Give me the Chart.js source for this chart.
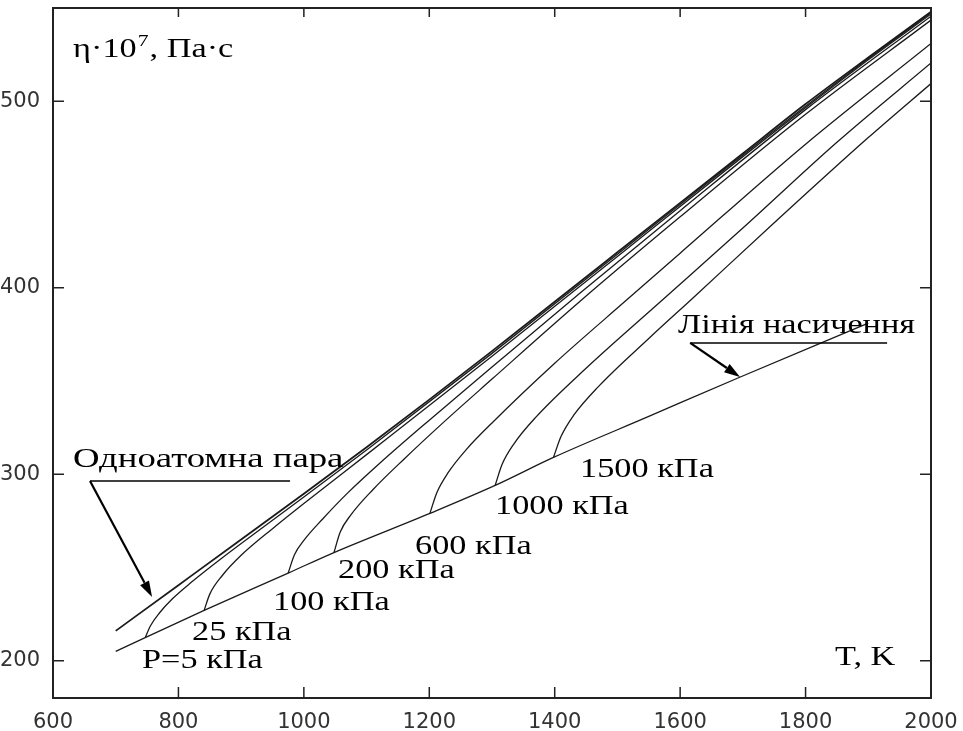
<!DOCTYPE html>
<html>
<head>
<meta charset="utf-8">
<script src="https://cdn.jsdelivr.net/npm/chart.js@4.4.0/dist/chart.umd.min.js"></script>
<style>
  body { margin: 0; background: #fff; }
  canvas { display: block; }
</style>
</head>
<body>
<canvas id="chart" width="963" height="731"></canvas>
<script>
// viscosity of the vapour, eta*10^7 Pa*s, against T, K
const xTicks = [600, 800, 1000, 1200, 1400, 1600, 1800, 2000];
const yTicks = [200, 300, 400, 500];

// monoatomic vapour
const tMono = [700, 800, 900, 1000, 1100, 1200, 1300, 1400, 1500, 1600, 1700, 1800, 1900, 2000];
const etaMono = [216, 240.5, 265, 289.5, 314.5, 340, 366, 392.5, 419, 445.5, 472, 498.5, 523.5, 548];

// saturation line
const tSat = [700, 841, 975, 1048, 1201, 1305, 1398, 1550, 1695, 1900];
const etaSat = [205, 227, 247, 258, 279, 294, 309, 331, 352, 381];

// isobars
const t5 = [747, 755, 770, 790, 820, 870, 950, 1100, 1300, 1500, 1700, 1900, 2000];
const eta5 = [212.3, 218.5, 225.7, 233.1, 241.9, 255.2, 275.3, 313, 364.8, 418, 471.2, 522.9, 547.5];

const t25 = [841, 850, 870, 900, 950, 1000, 1100, 1300, 1500, 1700, 1900, 2000];
const eta25 = [227, 235.7, 245.7, 256.5, 270.8, 284.3, 310.5, 363.2, 416.8, 470.3, 522.2, 546.8];

const t100 = [975, 985, 1000, 1030, 1070, 1121, 1200, 1300, 1440, 1600, 1800, 2000];
const eta100 = [247, 256.8, 264.5, 276, 290, 305.9, 329, 357.5, 397.1, 441.3, 495.5, 545.6];

const t200 = [1048, 1058, 1075, 1110, 1160, 1220, 1300, 1440, 1600, 1800, 2000];
const eta200 = [258, 269, 278.2, 291.7, 308.2, 327, 351, 392.6, 438, 493, 543.5];

const t600 = [1201, 1212, 1230, 1260, 1300, 1400, 1515, 1600, 1800, 2000];
const eta600 = [279, 290.1, 300.8, 313.6, 327.5, 359.5, 393.5, 418.5, 477, 531];

const t1000 = [1305, 1316, 1335, 1370, 1450, 1573, 1700, 1850, 2000];
const eta1000 = [294, 305.2, 316.3, 330.6, 356.8, 393.8, 432, 478, 520.5];

const t1500 = [1398, 1410, 1430, 1470, 1550, 1620, 1750, 1900, 2000];
const eta1500 = [309, 320.2, 331.5, 347.1, 372.8, 394.4, 434.8, 480.5, 509.5];

// captions, placed in data units
const notes = [
  { text: "Одноатомна пара", t: 632, v: 303.9, sx: 1.36 },
  { text: "P=5 кПа", t: 742, v: 196.1 },
  { text: "25 кПа", t: 821.7, v: 211.1 },
  { text: "100 кПа", t: 950.8, v: 227.2 },
  { text: "200 кПа", t: 1054.5, v: 244.3 },
  { text: "600 кПа", t: 1177.3, v: 257.2 },
  { text: "1000 кПа", t: 1304.8, v: 278.7 },
  { text: "1500 кПа", t: 1440.4, v: 298.5 },
  { text: "Лінія насичення", t: 1596.6, v: 375.7 },
  { text: "T, K", t: 1847, v: 197.7 }
];
const pointers = [
  { line: [659, 296.4, 978, 296.4], arrow: [659, 296.4, 758, 234.2] },
  { line: [1616, 370.4, 1930, 370.4], arrow: [1616, 370.4, 1695.5, 352.1] }
];

function pts(ts, vs) {
  return ts.map((t, i) => ({ x: t, y: vs[i] }));
}

function curve(ts, vs, w) {
  return {
    data: pts(ts, vs),
    borderColor: "#1a1a1a",
    borderWidth: w || 1.3,
    pointRadius: 0,
    fill: false,
    cubicInterpolationMode: "monotone"
  };
}

const SERIF = "'Liberation Serif', 'Times New Roman', serif";
const STRETCH = 1.27;

function stretchedText(ctx, text, px, py, size, sx) {
  const k = sx || STRETCH;
  ctx.save();
  ctx.font = size + "px " + SERIF;
  ctx.translate(px, py);
  ctx.scale(k, 1);
  ctx.fillText(text, 0, 0);
  const w = ctx.measureText(text).width * k;
  ctx.restore();
  return w;
}

function arrow(ctx, x1, y1, x2, y2) {
  const ang = Math.atan2(y2 - y1, x2 - x1);
  const len = 16, half = 5;
  const bx = x2 - len * Math.cos(ang), by = y2 - len * Math.sin(ang);
  ctx.beginPath();
  ctx.moveTo(x1, y1);
  ctx.lineTo(bx, by);
  ctx.stroke();
  ctx.beginPath();
  ctx.moveTo(x2, y2);
  ctx.lineTo(bx + half * Math.sin(ang), by - half * Math.cos(ang));
  ctx.lineTo(bx - half * Math.sin(ang), by + half * Math.cos(ang));
  ctx.closePath();
  ctx.fill();
}

const decor = {
  id: "decor",
  afterDraw(chart) {
    const { ctx, chartArea: a } = chart;
    const x = chart.scales.x, y = chart.scales.y;
    ctx.save();
    ctx.strokeStyle = "#222";
    ctx.fillStyle = "#000";

    // frame and inward ticks
    ctx.lineWidth = 2;
    ctx.strokeRect(a.left, a.top, a.right - a.left, a.bottom - a.top);
    ctx.lineWidth = 1.5;
    ctx.beginPath();
    xTicks.forEach((t) => {
      const px = x.getPixelForValue(t);
      ctx.moveTo(px, a.bottom); ctx.lineTo(px, a.bottom - 11);
      ctx.moveTo(px, a.top); ctx.lineTo(px, a.top + 9);
    });
    yTicks.forEach((v) => {
      const py = y.getPixelForValue(v);
      ctx.moveTo(a.left, py); ctx.lineTo(a.left + 11, py);
      ctx.moveTo(a.right, py); ctx.lineTo(a.right - 11, py);
    });
    ctx.stroke();

    // axis title with superscript
    let px = x.getPixelForValue(632), py = y.getPixelForValue(523.7);
    px += stretchedText(ctx, "η·10", px, py, 27);
    px += stretchedText(ctx, "7", px + 1, py - 11, 17) + 2;
    stretchedText(ctx, ", Па·с", px, py, 27);

    notes.forEach((n) => {
      stretchedText(ctx, n.text, x.getPixelForValue(n.t), y.getPixelForValue(n.v), 27, n.sx);
    });

    ctx.strokeStyle = "#000";
    pointers.forEach((p) => {
      ctx.lineWidth = 1.5;
      ctx.beginPath();
      ctx.moveTo(x.getPixelForValue(p.line[0]), y.getPixelForValue(p.line[1]));
      ctx.lineTo(x.getPixelForValue(p.line[2]), y.getPixelForValue(p.line[3]));
      ctx.stroke();
      ctx.lineWidth = 2.2;
      arrow(ctx,
        x.getPixelForValue(p.arrow[0]), y.getPixelForValue(p.arrow[1]),
        x.getPixelForValue(p.arrow[2]), y.getPixelForValue(p.arrow[3]));
    });
    ctx.restore();
  }
};

const tickFont = { family: "'DejaVu Sans', sans-serif", size: 21 };

new Chart(document.getElementById("chart"), {
  type: "line",
  data: {
    datasets: [
      curve(tMono, etaMono, 1.8),
      curve(t5, eta5),
      curve(t25, eta25),
      curve(t100, eta100),
      curve(t200, eta200),
      curve(t600, eta600),
      curve(t1000, eta1000),
      curve(t1500, eta1500),
      curve(tSat, etaSat)
    ]
  },
  options: {
    responsive: false,
    animation: false,
    layout: { padding: { left: 0, right: 32, top: 8, bottom: 0 } },
    plugins: { legend: { display: false }, tooltip: { enabled: false } },
    scales: {
      x: {
        type: "linear",
        min: 600,
        max: 2000,
        grid: { display: false },
        border: { display: false },
        ticks: { stepSize: 200, padding: 4, color: "#333", font: tickFont, maxRotation: 0,
          callback: (v) => String(v) },
        afterFit: (s) => { s.height = 33; s.paddingLeft = 0; s.paddingRight = 0; }
      },
      y: {
        type: "linear",
        min: 180,
        max: 550,
        grid: { display: false },
        border: { display: false },
        ticks: { padding: 5, color: "#333", font: tickFont, callback: (v) => String(v) },
        afterBuildTicks: (s) => { s.ticks = yTicks.map((v) => ({ value: v })); },
        afterFit: (s) => { s.width = 53; s.paddingTop = 0; s.paddingBottom = 0; }
      }
    }
  },
  plugins: [decor]
});
</script>
</body>
</html>
